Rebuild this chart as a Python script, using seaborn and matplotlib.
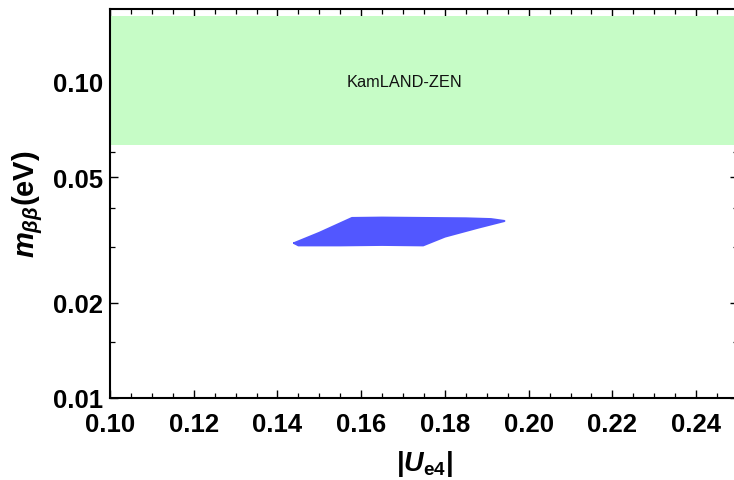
import matplotlib
matplotlib.use("Agg")
import matplotlib.pyplot as plt
import matplotlib.ticker as mticker
import seaborn as sns
import pandas as pd

# Data
band_label = "KamLAND-ZEN"
band_low, band_high = 0.0632, 0.162
region_x = [0.1440, 0.1500, 0.1578, 0.1650, 0.1750, 0.1850, 0.1910, 0.1942,
            0.1880, 0.1800, 0.1748, 0.1650, 0.1550, 0.1450, 0.1440]
region_y = [0.0309, 0.0333, 0.0371, 0.0372, 0.0371, 0.0370, 0.0368, 0.0363,
            0.0346, 0.0324, 0.0304, 0.0305, 0.0304, 0.0304, 0.0309]
x_major = [0.10, 0.12, 0.14, 0.16, 0.18, 0.20, 0.22, 0.24]
y_major = [0.01, 0.02, 0.05, 0.10]
y_minor = [0.015, 0.03, 0.04, 0.06, 0.07, 0.08, 0.09, 0.15]

sns.set_theme(style="ticks")
plt.rcParams['font.family'] = ['Liberation Sans', 'DejaVu Sans']
plt.rcParams['mathtext.fontset'] = 'custom'
plt.rcParams['mathtext.it'] = 'Liberation Sans:italic:bold'
plt.rcParams['mathtext.rm'] = 'Liberation Sans:bold'
plt.rcParams['mathtext.bf'] = 'Liberation Sans:bold'
plt.rcParams['text.color'] = 'black'
plt.rcParams['axes.labelcolor'] = 'black'
plt.rcParams['xtick.color'] = 'black'
plt.rcParams['ytick.color'] = 'black'

fig = plt.figure(figsize=(7.34, 4.81), dpi=100)
ax = fig.add_axes([110/734, (481-399)/481, 628/734, (399-10)/481])

ax.set_yscale('log')
ax.set_xlim(0.10, 0.25)
ax.set_ylim(0.01, 0.17)

ax.axhspan(band_low, band_high, color='#C6FCC6', lw=0, zorder=1)
ax.text(0.1703, 0.1, band_label, ha='center', va='center', fontsize=11.8,
        family='Liberation Sans', color='#111111', zorder=3)

df = pd.DataFrame({'x': region_x, 'y': region_y})
ax.fill(df['x'], df['y'], color='#5257FF', lw=0, zorder=2)
sns.lineplot(data=df, x='x', y='y', sort=False, estimator=None, color='#5257FF',
             lw=1.5, ax=ax, zorder=2)

ax.xaxis.set_major_locator(mticker.FixedLocator(x_major))
ax.xaxis.set_minor_locator(mticker.MultipleLocator(0.005))
ax.xaxis.set_major_formatter(mticker.FuncFormatter(lambda v, p: f"{v:.2f}"))
ax.yaxis.set_major_locator(mticker.FixedLocator(y_major))
ax.yaxis.set_minor_locator(mticker.FixedLocator(y_minor))
ax.yaxis.set_major_formatter(mticker.FuncFormatter(lambda v, p: f"{v:.2f}"))
ax.yaxis.set_minor_formatter(mticker.NullFormatter())

ax.tick_params(which='both', direction='in', top=True, right=True, color='black',
               labelcolor='black')
ax.tick_params(which='major', length=6, width=1.0, labelsize=18.5)
ax.tick_params(axis='x', which='major', pad=10)
ax.tick_params(axis='y', which='major', pad=5)
ax.tick_params(which='minor', length=3.5, width=0.9)
for lab in ax.get_xticklabels() + ax.get_yticklabels():
    lab.set_fontweight('bold')
for s in ax.spines.values():
    s.set_linewidth(1.5)
    s.set_color('black')

ax.set_xlabel(r"$|U_{\mathrm{e4}}|$", fontsize=19.5, labelpad=9)
ax.set_ylabel(r"$m_{\beta\beta}\mathrm{(eV)}$", fontsize=21, labelpad=6)

fig.savefig("out.png", dpi=100)
